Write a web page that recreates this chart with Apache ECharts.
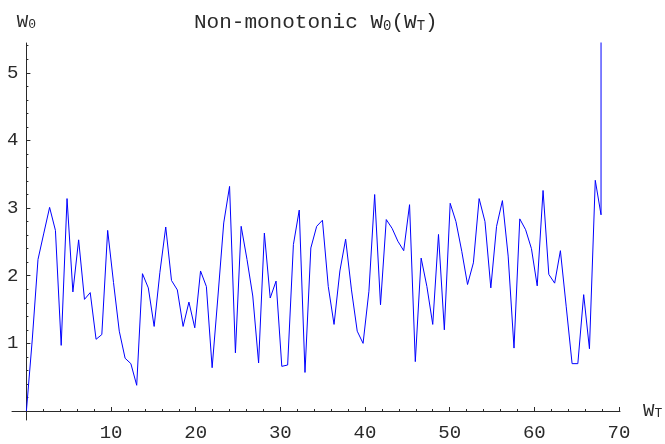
<!DOCTYPE html>
<html>
<head>
<meta charset="utf-8">
<script src="https://cdn.jsdelivr.net/npm/echarts@6/dist/echarts.min.js"></script>
</head>
<body style="margin:0;background:#fff;">
<div id="main" style="width:665px;height:444px;"></div>
<script>
// W_T sample points (last one repeated: the curve shoots off the top there)
var wt = [0, 0.69, 1.37, 2.06, 2.74, 3.43, 4.11, 4.80, 5.49, 6.17,
    6.86, 7.54, 8.23, 8.91, 9.60, 10.29, 10.97, 11.66, 12.34, 13.03,
    13.71, 14.40, 15.09, 15.77, 16.46, 17.14, 17.83, 18.51, 19.20, 19.89,
    20.57, 21.26, 21.94, 22.63, 23.31, 24.00, 24.69, 25.37, 26.06, 26.74,
    27.43, 28.11, 28.80, 29.49, 30.17, 30.86, 31.54, 32.23, 32.91, 33.60,
    34.29, 34.97, 35.66, 36.34, 37.03, 37.71, 38.40, 39.08, 39.77, 40.46,
    41.14, 41.83, 42.51, 43.20, 43.88, 44.57, 45.26, 45.94, 46.63, 47.31,
    48.00, 48.68, 49.37, 50.06, 50.74, 51.43, 52.11, 52.80, 53.48, 54.17,
    54.86, 55.54, 56.23, 56.91, 57.60, 58.28, 58.97, 59.66, 60.34, 61.03,
    61.71, 62.40, 63.08, 63.77, 64.46, 65.14, 65.83, 66.51, 67.20, 67.88,
    67.88];
var w0 = [0.00, 1.05, 2.24, 2.63, 3.01, 2.67, 0.97, 3.14, 1.76, 2.53,
    1.65, 1.75, 1.06, 1.13, 2.67, 1.90, 1.18, 0.78, 0.70, 0.38,
    2.03, 1.82, 1.25, 2.05, 2.72, 1.93, 1.79, 1.25, 1.61, 1.23,
    2.07, 1.84, 0.64, 1.70, 2.78, 3.32, 0.86, 2.73, 2.24, 1.70,
    0.71, 2.63, 1.67, 1.92, 0.66, 0.68, 2.46, 2.97, 0.57, 2.41,
    2.73, 2.82, 1.84, 1.28, 2.07, 2.54, 1.79, 1.18, 1.00, 1.77,
    3.20, 1.57, 2.83, 2.70, 2.51, 2.37, 3.05, 0.73, 2.26, 1.84,
    1.28, 2.61, 1.20, 3.07, 2.80, 2.36, 1.87, 2.19, 3.14, 2.80,
    1.82, 2.73, 3.11, 2.29, 0.93, 2.84, 2.68, 2.40, 1.85, 3.26,
    2.02, 1.89, 2.37, 1.54, 0.70, 0.70, 1.72, 0.92, 3.41, 2.90,
    8.00];
var xTicks = [10, 20, 30, 40, 50, 60, 70];
var yTicks = [1, 2, 3, 4, 5];

var xMinor = [];
for (var v = 2; v < 70; v += 2) { if (v % 10) xMinor.push(v); }
var yMinor = [];
for (var i = 1; i <= 27; i++) { if (i % 5) yMinor.push(+(i * 0.2).toFixed(1)); }

var font = 'Liberation Mono';
var ink = '#2a2a2a';

function richStyles(big, small) {
    return {
        m: { fontFamily: font, fontSize: big, lineHeight: big, verticalAlign: 'top', color: ink },
        s: { fontFamily: font, fontSize: small, lineHeight: small - 2, verticalAlign: 'bottom', color: ink }
    };
}

var chart = echarts.init(document.getElementById('main'));

var noSplit = { show: false };
var xMain = { type: 'value', gridIndex: 0, min: 0, max: 70.12, position: 'bottom', splitLine: noSplit };
var yMain = { type: 'value', gridIndex: 0, min: 0, max: 5.44, position: 'left', splitLine: noSplit };
var hidden = { type: 'value', min: 0, max: 1, show: false };

chart.setOption({
    animation: false,
    backgroundColor: '#fff',
    title: {
        text: '{m|Non-monotonic W}{s|0}{m|(W}{s|T}{m|)}',
        left: 189,
        top: 7,
        textStyle: { fontFamily: font, fontWeight: 'normal', color: ink, rich: richStyles(21, 14) }
    },
    grid: [
        // plot area
        { left: 26.4, right: 45, top: 43, bottom: 33, containLabel: false, outerBoundsMode: 'none' },
        // x axis line, reaching a bit left of the origin
        { left: 12, right: 45, top: 43, bottom: 33, containLabel: false, outerBoundsMode: 'none' },
        // y axis line, reaching a bit below the origin
        { left: 26.4, right: 45, top: 43, bottom: 24, containLabel: false, outerBoundsMode: 'none' }
    ],
    xAxis: [
        Object.assign({}, xMain, {
            axisLine: { show: false },
            axisTick: { inside: true, length: 4, customValues: xTicks, lineStyle: { color: ink } },
            axisLabel: { customValues: xTicks, margin: 12, fontFamily: font, fontSize: 19, color: ink },
            name: '{m|W}{s|T}',
            nameLocation: 'end',
            nameGap: 23,
            nameTextStyle: { rich: richStyles(19, 13) }
        }),
        Object.assign({}, xMain, {
            axisLine: { show: false },
            axisTick: { inside: true, length: 2, customValues: xMinor, lineStyle: { color: ink } },
            axisLabel: { show: false }
        }),
        { type: 'value', gridIndex: 1, min: 0, max: 1, position: 'bottom', splitLine: noSplit,
          axisLine: { show: true, lineStyle: { color: ink, width: 1 } },
          axisTick: { show: false }, axisLabel: { show: false } },
        Object.assign({ gridIndex: 2 }, hidden)
    ],
    yAxis: [
        Object.assign({}, yMain, {
            axisLine: { show: false },
            axisTick: { inside: true, length: 4, customValues: yTicks, lineStyle: { color: ink } },
            axisLabel: { customValues: yTicks, margin: 8, fontFamily: font, fontSize: 19, color: ink },
            name: '{m|W}{s|0}',
            nameLocation: 'end',
            nameGap: 12,
            nameTextStyle: { rich: richStyles(19, 13) }
        }),
        Object.assign({}, yMain, {
            axisLine: { show: false },
            axisTick: { inside: true, length: 2, customValues: yMinor, lineStyle: { color: ink } },
            axisLabel: { show: false }
        }),
        Object.assign({ gridIndex: 1 }, hidden),
        { type: 'value', gridIndex: 2, min: 0, max: 1, position: 'left', splitLine: noSplit,
          axisLine: { show: true, lineStyle: { color: ink, width: 1 } },
          axisTick: { show: false }, axisLabel: { show: false } }
    ],
    series: [{
        type: 'line',
        xAxisIndex: 0,
        yAxisIndex: 0,
        data: wt.map(function (x, i) { return [x, w0[i]]; }),
        showSymbol: false,
        symbol: 'none',
        clip: true,
        lineStyle: { color: '#0000ff', width: 1 },
        itemStyle: { color: '#0000ff' }
    }]
});
</script>
</body>
</html>
